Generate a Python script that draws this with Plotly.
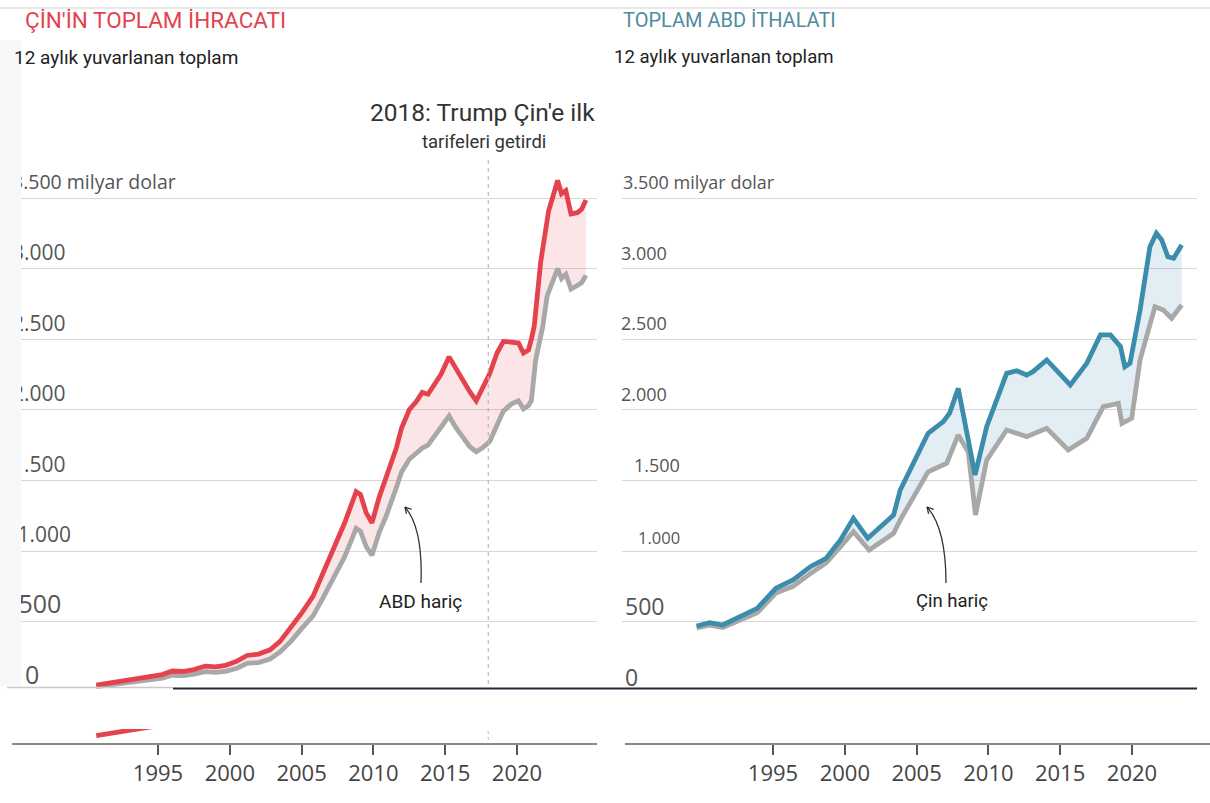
import numpy as np
import plotly.graph_objects as go

# ---- data (billion USD, 12-month rolling totals) ----
cn_years = [1990.7, 1991.5, 1992.5, 1993.5, 1994.5, 1995.3, 1996.0, 1996.8, 1997.5, 1998.3,
            1999.0, 1999.7, 2000.5, 2001.2, 2002.0, 2002.8, 2003.5, 2004.3, 2005.0, 2005.8,
            2006.5, 2007.2, 2008.0, 2008.8, 2009.1, 2009.5, 2009.9, 2010.4, 2010.9, 2011.6,
            2011.96, 2012.5, 2013.0, 2013.4, 2013.8, 2014.3, 2014.7, 2015.27, 2015.7, 2016.3,
            2016.7, 2017.16, 2017.6, 2018.1, 2018.6, 2019.05, 2019.6, 2020.1, 2020.45, 2020.8,
            2021.0, 2021.2, 2021.65, 2022.2, 2022.83, 2023.1, 2023.4, 2023.76, 2024.2, 2024.5,
            2024.8]
cn_total = [50, 62, 78, 90, 108, 125, 150, 148, 160, 185,
            180, 190, 220, 260, 270, 300, 360, 460, 560, 680,
            840, 1000, 1200, 1420, 1400, 1270, 1200, 1380, 1520, 1730,
            1871, 2000, 2060, 2123, 2110, 2183, 2250, 2375, 2300, 2200,
            2130, 2064, 2150, 2256, 2400, 2484, 2480, 2473, 2402, 2424,
            2500, 2593, 3047, 3408, 3624, 3530, 3552, 3387, 3396, 3420,
            3486]

cn_ex_us_years = [1990.7, 1991.5, 1992.5, 1993.5, 1994.5, 1995.3, 1996.0, 1996.8, 1997.5, 1998.3,
                  1999.0, 1999.7, 2000.5, 2001.2, 2002.0, 2002.8, 2003.5, 2004.3, 2005.0, 2005.8,
                  2006.5, 2007.2, 2008.0, 2008.8, 2009.1, 2009.5, 2009.9, 2010.4, 2010.9, 2011.6,
                  2011.96, 2012.5, 2013.0, 2013.4, 2013.8, 2014.3, 2014.7, 2015.27, 2015.7, 2016.3,
                  2016.7, 2017.16, 2017.6, 2018.1, 2018.6, 2019.05, 2019.6, 2020.1, 2020.45, 2020.8,
                  2021.0, 2021.3, 2021.8, 2022.1, 2022.83, 2023.1, 2023.4, 2023.76, 2024.2, 2024.5,
                  2024.8]
cn_ex_us = [40, 50, 62, 70, 85, 100, 120, 118, 128, 145,
            140, 148, 170, 205, 210, 235, 285, 365, 450, 540,
            670, 800, 960, 1160, 1140, 1030, 970, 1130, 1250, 1450,
            1560, 1650, 1700, 1729, 1750, 1824, 1880, 1956, 1880, 1800,
            1740, 1703, 1730, 1775, 1900, 1991, 2040, 2064, 2006, 2030,
            2064, 2353, 2593, 2807, 3000, 2930, 2960, 2855, 2880, 2900,
            2952]

us_years = [1989.68, 1990.6, 1991.5, 1992.7, 1993.9, 1995.2, 1996.4, 1997.6, 1998.7, 1999.7,
            2000.6, 2001.6, 2002.7, 2003.4, 2003.86, 2005.8, 2006.86, 2007.3, 2007.9, 2009.07,
            2009.88, 2011.27, 2011.97, 2012.67, 2013.1, 2014.06, 2015.7, 2016.85, 2017.8, 2018.5,
            2019.2, 2019.5, 2019.86, 2020.56, 2021.25, 2021.7, 2022.07, 2022.5, 2022.9, 2023.46]
us_total = [469, 492, 476, 535, 594, 736, 795, 889, 948, 1078,
            1231, 1090, 1196, 1255, 1432, 1834, 1916, 1977, 2152, 1538,
            1880, 2258, 2277, 2246, 2270, 2353, 2176, 2329, 2530, 2530,
            2447, 2305, 2329, 2707, 3155, 3250, 3203, 3084, 3073, 3167]

us_ex_cn_years = [1989.68, 1990.6, 1991.5, 1992.7, 1993.9, 1995.2, 1996.4, 1997.6, 1998.7, 1999.7,
                  2000.6, 2001.7, 2002.7, 2003.4, 2003.86, 2005.8, 2007.1, 2007.9, 2008.6, 2009.1,
                  2009.88, 2011.27, 2012.67, 2014.06, 2015.56, 2016.85, 2018.0, 2019.05, 2019.3, 2019.98,
                  2020.56, 2021.6, 2022.18, 2022.76, 2023.46]
us_ex_cn = [455, 475, 458, 510, 562, 702, 750, 840, 915, 1030,
            1137, 1007, 1080, 1125, 1220, 1561, 1621, 1822, 1700, 1255,
            1644, 1857, 1810, 1869, 1715, 1798, 2022, 2046, 1904, 1940,
            2353, 2730, 2707, 2648, 2742]

y_ticks = [0, 500, 1000, 1500, 2000, 2500, 3000, 3500]
y_tick_text = ["0", "500", "1.000", "1.500", "2.000", "2.500", "3.000", "3.500 milyar dolar"]
x_ticks = [1995, 2000, 2005, 2010, 2015, 2020]
tariff_year = 2018

# ---- page geometry (pixels on a 1210 x 803 page) ----
W, H = 1210, 803
PX_PER_YEAR = 14.36
PX_PER_BN = 0.1412
Y_ZERO = 692.2


def fx(x):
    return x / W


def fy(y):
    return 1 - y / H


def year_range(px0, px1, px2020):
    return [2020 + (px0 - px2020) / PX_PER_YEAR, 2020 + (px1 - px2020) / PX_PER_YEAR]


RED = "#e4434e"
GREY = "#a8a8a8"
BLUE = "#3b8dab"
TEAL_TITLE = "#4f8c9d"
PINK_FILL = "rgba(232,80,90,0.15)"
BLUE_FILL = "rgba(90,150,190,0.17)"

fig = go.Figure()

# left panel: China exports
fig.add_trace(go.Scatter(x=cn_ex_us_years, y=cn_ex_us, mode="lines",
                         line=dict(color=GREY, width=4.8),
                         xaxis="x", yaxis="y", hoverinfo="skip"))
fig.add_trace(go.Scatter(x=cn_years, y=cn_total, mode="lines",
                         line=dict(color=RED, width=4.8), fill="tonexty", fillcolor=PINK_FILL,
                         xaxis="x", yaxis="y", hoverinfo="skip"))
# right panel: US imports
fig.add_trace(go.Scatter(x=us_ex_cn_years, y=us_ex_cn, mode="lines",
                         line=dict(color=GREY, width=4.8),
                         xaxis="x2", yaxis="y2", hoverinfo="skip"))
fig.add_trace(go.Scatter(x=us_years, y=us_total, mode="lines",
                         line=dict(color=BLUE, width=4.8), fill="tonexty", fillcolor=BLUE_FILL,
                         xaxis="x2", yaxis="y2", hoverinfo="skip"))
# lower strips: the base of each series under its own year axis
fig.add_trace(go.Scatter(x=cn_years, y=cn_total, mode="lines",
                         line=dict(color=RED, width=4.8),
                         xaxis="x3", yaxis="y3", hoverinfo="skip"))
fig.add_trace(go.Scatter(x=us_years, y=us_total, mode="lines",
                         line=dict(color=BLUE, width=4.8),
                         xaxis="x4", yaxis="y4", hoverinfo="skip"))

# left y tick labels (inside, above the gridlines); small labels sit a little further in
NB = "\u00a0"
left_tick_text = []
for v, t in zip(y_ticks, y_tick_text):
    if v == 0:
        left_tick_text.append(f"<span style='font-size:25px'>{NB}{NB}{t}</span>")
    elif v == 500:
        left_tick_text.append(f"<span style='font-size:25px'>{NB}{t}</span>")
    elif v == 1000:
        left_tick_text.append(f"{NB}{t}")
    elif v == 3500:
        left_tick_text.append(f"<span style='font-size:19.5px'>{t}</span>")
    else:
        left_tick_text.append(t)

main_top = 100
y_top_val = (Y_ZERO - main_top) / PX_PER_BN

strip_axis = dict(tickvals=x_ticks, ticks="outside", ticklen=10, tickwidth=2, tickcolor="#555",
                  tickfont=dict(family="Open Sans", size=22, color="#444"),
                  showline=True, linecolor="#8a8a8a", linewidth=2,
                  showgrid=False, zeroline=False, fixedrange=True)

fig.update_layout(
    width=W, height=H,
    margin=dict(l=0, r=0, t=0, b=0),
    paper_bgcolor="white", plot_bgcolor="rgba(0,0,0,0)",
    showlegend=False,
    font=dict(family="Roboto", color="#222"),
    xaxis=dict(domain=[fx(8), fx(597)], range=year_range(8, 597, 517),
               showgrid=False, zeroline=False, showticklabels=False, showline=False,
               anchor="y", fixedrange=True),
    yaxis=dict(domain=[fy(Y_ZERO), fy(main_top)], range=[0, y_top_val],
               tickvals=y_ticks, ticktext=left_tick_text,
               ticklabelposition="inside", ticks="", ticklabelshift=-16, ticklabelstandoff=1,
               tickfont=dict(family="Open Sans", size=21, color="#555"),
               showgrid=True, gridcolor="#d8d8d8", gridwidth=1.3,
               zeroline=True, zerolinecolor="rgba(0,0,0,0)",
               showline=False, anchor="x", fixedrange=True),
    xaxis2=dict(domain=[fx(622), fx(1197)], range=year_range(622, 1197, 1132),
                showgrid=False, zeroline=False, showticklabels=False, showline=False,
                anchor="y2", fixedrange=True),
    yaxis2=dict(domain=[fy(Y_ZERO), fy(main_top)], range=[0, y_top_val],
                tickvals=y_ticks[1:], showticklabels=False, ticks="",
                showgrid=True, gridcolor="#d8d8d8", gridwidth=1.3,
                zeroline=False, showline=False, anchor="x2", fixedrange=True),
    xaxis3=dict(domain=[fx(12), fx(597)], range=year_range(12, 597, 517), anchor="y3",
                **strip_axis),
    yaxis3=dict(domain=[fy(742.7), fy(729)], range=[0, (742.7 - 729) / PX_PER_BN],
                visible=False, anchor="x3", fixedrange=True),
    xaxis4=dict(domain=[fx(625), fx(1210)], range=year_range(625, 1210, 1132), anchor="y4",
                **strip_axis),
    yaxis4=dict(domain=[fy(742.7), fy(729)], range=[0, (742.7 - 729) / PX_PER_BN],
                visible=False, anchor="x4", fixedrange=True),
)

shapes = []
# thin rule across the top
shapes.append(dict(type="line", xref="paper", yref="paper", x0=0, x1=1, y0=fy(8), y1=fy(8),
                   line=dict(color="#e2e2e2", width=1.5)))
# tariff marker: dashed vertical line
shapes.append(dict(type="line", xref="x", yref="paper", x0=tariff_year, x1=tariff_year,
                   y0=fy(160), y1=fy(688), line=dict(color="#b8b8b8", width=1.2, dash="4px,4px")))
shapes.append(dict(type="line", xref="x3", yref="paper", x0=tariff_year, x1=tariff_year,
                   y0=fy(731), y1=fy(742), line=dict(color="#c8c8c8", width=1.2, dash="3px,3px")))
# baseline rules
shapes.append(dict(type="line", xref="paper", yref="paper", x0=fx(7), x1=fx(173),
                   y0=fy(687.6), y1=fy(687.6), line=dict(color="#c9c9c9", width=1.5)))
shapes.append(dict(type="line", xref="paper", yref="paper", x0=fx(173), x1=fx(1197),
                   y0=fy(688.4), y1=fy(688.4), line=dict(color="#1f2b38", width=2)))
# pale margin band along the left edge
shapes.append(dict(type="rect", xref="paper", yref="paper", x0=0, x1=fx(21),
                   y0=fy(686), y1=fy(40), line=dict(width=0), fillcolor="#f7f8fa", layer="above"))


def curved_arrow(p0, pc, p1, color="#333"):
    path = (f"M {fx(p0[0])},{fy(p0[1])} Q {fx(pc[0])},{fy(pc[1])} {fx(p1[0])},{fy(p1[1])}")
    out = [dict(type="path", xref="paper", yref="paper", path=path,
                line=dict(color=color, width=1.3))]
    d = np.array(p1, float) - np.array(pc, float)
    d /= np.linalg.norm(d)
    for ang in (0.5, -0.5):
        rot = np.array([[np.cos(ang), -np.sin(ang)], [np.sin(ang), np.cos(ang)]])
        arm = np.array(p1, float) - 7 * (rot @ d)
        out.append(dict(type="line", xref="paper", yref="paper",
                        x0=fx(p1[0]), y0=fy(p1[1]), x1=fx(arm[0]), y1=fy(arm[1]),
                        line=dict(color=color, width=1.3)))
    return out


shapes += curved_arrow((421, 583), (423, 528), (405, 507))
shapes += curved_arrow((946, 583), (946, 528), (927, 507))
fig.update_layout(shapes=shapes)

ann = []


def text(x, y, s, size, color="#222", anchor="left", family="Roboto"):
    ann.append(dict(x=fx(x), y=fy(y), xref="paper", yref="paper", text=s, showarrow=False,
                    xanchor=anchor, yanchor="middle",
                    font=dict(family=family, size=size, color=color)))


text(23, 20, "ÇİN'İN TOPLAM İHRACATI", 22.5, RED)
text(12, 57, "12 aylık yuvarlanan toplam", 19, "#222")
text(621, 20, "TOPLAM ABD İTHALATI", 20, TEAL_TITLE)
text(612, 57, "12 aylık yuvarlanan toplam", 18.6, "#222")
text(482, 112, "2018: Trump Çin'e ilk", 24.5, "#333", "center")
text(484, 142, "tarifeleri getirdi", 18.5, "#333", "center")
text(420, 601, "ABD hariç", 19, "#222", "center")
text(952, 601, "Çin hariç", 18.5, "#222", "center")

# right panel value labels
LBL = "#555"
text(621, 182, "3.500 milyar dolar", 18, LBL, family="Open Sans")
text(619, 253, "3.000", 18, LBL, family="Open Sans")
text(619, 323, "2.500", 18, LBL, family="Open Sans")
text(619, 394, "2.000", 18, LBL, family="Open Sans")
text(682, 465, "1.500", 18, LBL, "right", family="Open Sans")
text(682, 537, "1.000", 16.5, LBL, "right", family="Open Sans")
text(623, 606, "500", 23, LBL, family="Open Sans")
text(623, 677, "0", 23, LBL, family="Open Sans")

fig.update_layout(annotations=ann)

fig.write_html("out.html")
